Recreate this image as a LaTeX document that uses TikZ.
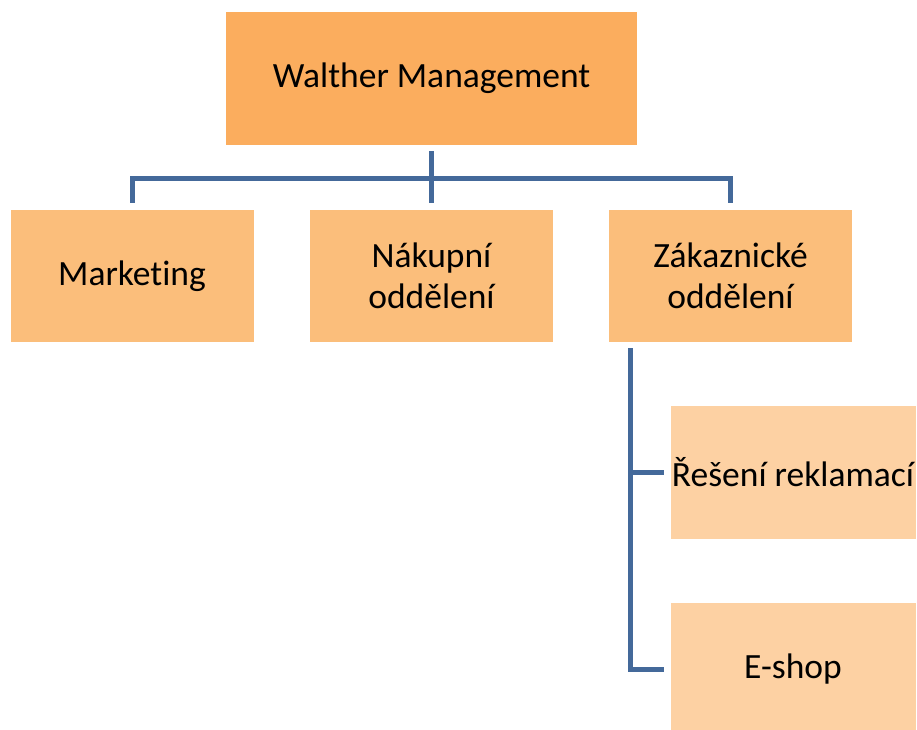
\documentclass[tikz,border=0pt]{standalone}
\usepackage{fontspec}
\setmainfont{Carlito}[Ligatures=NoCommon]
\usetikzlibrary{positioning}
\definecolor{topfill}{HTML}{FBAD5E}
\definecolor{deptfill}{HTML}{FBBE7B}
\definecolor{subfill}{HTML}{FDD1A3}
\definecolor{linkblue}{HTML}{44699A}

\begin{document}
\begin{tikzpicture}[
        x=1pt, y=1pt,
        on grid,
        unit/.style={rectangle, inner sep=0pt, align=center,
            font=\fontsize{35.5}{41}\selectfont, text=black},
        head/.style={unit, fill=topfill, minimum width=411pt, minimum height=133pt},
        dept/.style={unit, fill=deptfill, minimum width=243pt, minimum height=132pt},
        sub/.style={unit, fill=subfill, minimum width=245pt, minimum height=133pt},
        link/.style={draw=linkblue, line width=5pt, line join=miter}
    ]
        \useasboundingbox[fill=white] (0,0) rectangle (917,729);

        % Management
        \node[head] (W) at (431.5,650.5) {Walther Management};

        % Departments
        \node[dept, below=197.5pt of W] (N) {Nákupní\\oddělení};
        \node[dept, left=299.5pt of N] (M) {Marketing};
        \node[dept, right=299pt of N] (Z) {Zákaznické\\oddělení};

        % Sub units
        \node[sub, below right=196pt and 62.5pt of Z] (R) {\makebox[0pt]{Řešení reklamací}};
        \node[sub, below=197.5pt of R] (E) {E-shop};

        \coordinate (bus) at ([yshift=-33pt]W.south);
        \coordinate (spine) at ([xshift=22pt]Z.south west);

        % Management to departments
        \draw[link, shorten <=6pt] (W.south) -- (bus);
        \draw[link, shorten <=7pt, shorten >=7pt] (M.north) |- (bus) -| (Z.north);
        \draw[link, shorten >=7pt] (bus) -- (N.north);

        % Customer department to sub units
        \draw[link, shorten <=6pt, shorten >=6pt] (spine) |- (E.west);
        \draw[link, shorten >=6pt] (spine |- R.west) -- (R.west);

    \end{tikzpicture}
\end{document}
